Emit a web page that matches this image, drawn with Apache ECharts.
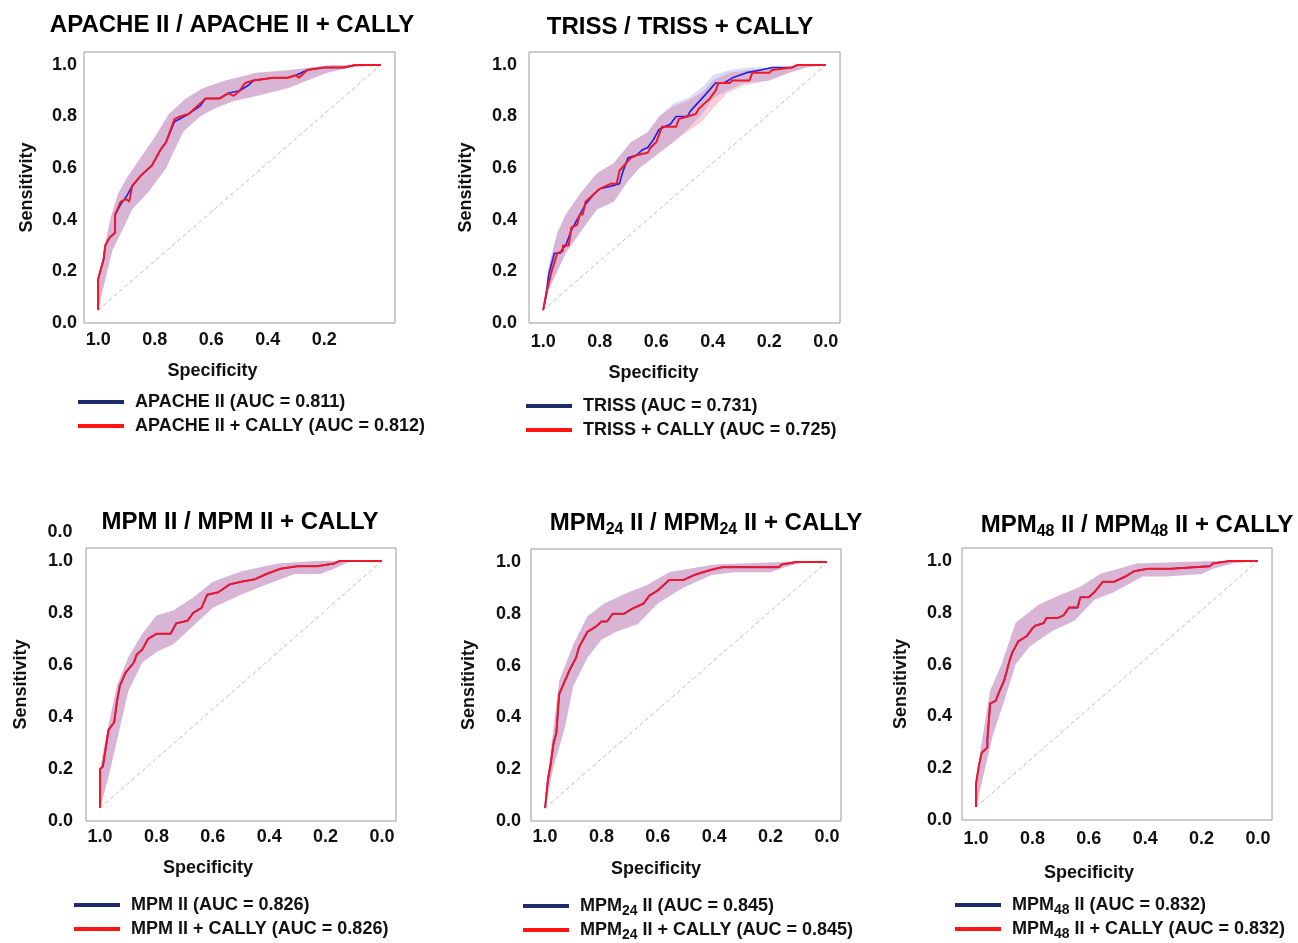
<!DOCTYPE html>
<html><head><meta charset="utf-8">
<script src="https://cdn.jsdelivr.net/npm/echarts@6/dist/echarts.min.js"></script>
<style>html,body{margin:0;padding:0;background:#fff}#c{width:1298px;height:943px}</style>
</head><body><div id="c"></div>
<script>
// ---------------- DATA ----------------
const xTicksFull = [1.0, 0.8, 0.6, 0.4, 0.2, 0.0];
const xTicksApache = [1.0, 0.8, 0.6, 0.4, 0.2];
const yTicks = [0.0, 0.2, 0.4, 0.6, 0.8, 1.0];
const diagonal = [[1.00, 0.05], [0.00, 1.00]];

const panelTitles = [
  'APACHE II / APACHE II + CALLY',
  'TRISS / TRISS + CALLY',
  'MPM II / MPM II + CALLY',
  'MPM{sub|24} II / MPM{sub|24} II + CALLY',
  'MPM{sub|48} II / MPM{sub|48} II + CALLY'
];
const blueNames = [
  'APACHE II (AUC = 0.811)',
  'TRISS (AUC = 0.731)',
  'MPM II (AUC = 0.826)',
  'MPM{sub|24} II (AUC = 0.845)',
  'MPM{sub|48} II (AUC = 0.832)'
];
const redNames = [
  'APACHE II + CALLY (AUC = 0.812)',
  'TRISS + CALLY (AUC = 0.725)',
  'MPM II + CALLY (AUC = 0.826)',
  'MPM{sub|24} II + CALLY (AUC = 0.845)',
  'MPM{sub|48} II + CALLY (AUC = 0.832)'
];

// APACHE II  [specificity, sensitivity]
const apacheBlue = [[1.00,0.05],[1.00,0.17],[0.98,0.25],[0.975,0.30],[0.96,0.33],[0.94,0.35],[0.94,0.42],[0.92,0.46],[0.90,0.49],[0.88,0.53],[0.85,0.57],[0.81,0.61],[0.78,0.67],[0.76,0.70],[0.73,0.78],[0.68,0.81],[0.64,0.84],[0.62,0.87],[0.57,0.87],[0.54,0.89],[0.50,0.90],[0.47,0.92],[0.45,0.94],[0.38,0.95],[0.33,0.95],[0.30,0.96],[0.26,0.98],[0.20,0.99],[0.13,0.99],[0.09,1.00],[0.00,1.00]];
const apacheRed = [[1.00,0.05],[1.00,0.17],[0.98,0.25],[0.975,0.30],[0.96,0.33],[0.94,0.35],[0.94,0.42],[0.92,0.47],[0.90,0.48],[0.89,0.47],[0.88,0.53],[0.85,0.57],[0.81,0.61],[0.78,0.67],[0.76,0.70],[0.73,0.79],[0.71,0.80],[0.68,0.81],[0.64,0.85],[0.62,0.87],[0.57,0.87],[0.54,0.89],[0.52,0.88],[0.50,0.90],[0.48,0.93],[0.45,0.94],[0.38,0.95],[0.33,0.95],[0.30,0.96],[0.29,0.95],[0.26,0.98],[0.20,0.99],[0.13,0.99],[0.09,1.00],[0.00,1.00]];
const apacheUpper = [[1.00,0.05],[0.995,0.18],[0.98,0.28],[0.965,0.36],[0.955,0.41],[0.93,0.50],[0.90,0.56],[0.85,0.64],[0.80,0.72],[0.75,0.81],[0.69,0.87],[0.63,0.91],[0.55,0.94],[0.44,0.97],[0.32,0.98],[0.25,0.99],[0.17,1.00],[0.00,1.00]];
const apacheLower = [[1.00,0.05],[0.97,0.19],[0.95,0.28],[0.91,0.37],[0.88,0.44],[0.82,0.51],[0.76,0.60],[0.70,0.74],[0.64,0.80],[0.59,0.83],[0.52,0.86],[0.44,0.88],[0.33,0.91],[0.26,0.94],[0.19,0.97],[0.11,0.99],[0.00,1.00]];

// TRISS
const trissBlue = [[1.00,0.05],[0.99,0.10],[0.98,0.19],[0.96,0.27],[0.94,0.27],[0.93,0.29],[0.92,0.30],[0.90,0.36],[0.89,0.38],[0.87,0.42],[0.85,0.46],[0.82,0.50],[0.80,0.52],[0.76,0.53],[0.73,0.54],[0.72,0.58],[0.70,0.64],[0.67,0.65],[0.65,0.67],[0.63,0.68],[0.61,0.71],[0.59,0.75],[0.57,0.76],[0.55,0.77],[0.53,0.80],[0.49,0.80],[0.48,0.82],[0.43,0.88],[0.39,0.93],[0.36,0.93],[0.33,0.95],[0.28,0.97],[0.23,0.98],[0.19,0.99],[0.12,0.99],[0.10,1.00],[0.00,1.00]];
const trissRed = [[1.00,0.05],[0.99,0.11],[0.97,0.20],[0.95,0.27],[0.93,0.28],[0.93,0.30],[0.91,0.30],[0.90,0.37],[0.88,0.38],[0.87,0.42],[0.86,0.42],[0.85,0.47],[0.82,0.50],[0.80,0.52],[0.76,0.54],[0.74,0.54],[0.73,0.59],[0.69,0.64],[0.67,0.65],[0.63,0.66],[0.62,0.68],[0.60,0.70],[0.58,0.76],[0.56,0.76],[0.53,0.76],[0.52,0.79],[0.49,0.80],[0.46,0.81],[0.45,0.83],[0.43,0.85],[0.41,0.87],[0.39,0.90],[0.38,0.93],[0.34,0.93],[0.33,0.94],[0.27,0.94],[0.26,0.97],[0.20,0.97],[0.19,0.98],[0.12,0.99],[0.10,1.00],[0.00,1.00]];
const trissBlueUpper = [[1.00,0.05],[0.98,0.22],[0.95,0.35],[0.92,0.42],[0.87,0.50],[0.81,0.58],[0.75,0.62],[0.69,0.70],[0.63,0.74],[0.59,0.80],[0.54,0.85],[0.49,0.87],[0.43,0.92],[0.40,0.96],[0.34,0.98],[0.27,0.99],[0.19,0.99],[0.00,1.00]];
const trissBlueLower = [[1.00,0.05],[0.98,0.13],[0.95,0.20],[0.92,0.27],[0.87,0.35],[0.81,0.44],[0.75,0.47],[0.70,0.55],[0.66,0.60],[0.60,0.65],[0.54,0.70],[0.48,0.76],[0.43,0.82],[0.40,0.87],[0.35,0.90],[0.29,0.93],[0.20,0.94],[0.13,0.97],[0.07,0.99],[0.00,1.00]];
const trissRedUpper = [[1.00,0.05],[0.98,0.22],[0.95,0.35],[0.92,0.42],[0.87,0.50],[0.81,0.58],[0.75,0.62],[0.69,0.70],[0.63,0.74],[0.59,0.80],[0.54,0.84],[0.49,0.86],[0.43,0.90],[0.40,0.94],[0.34,0.97],[0.27,0.98],[0.19,0.99],[0.00,1.00]];
const trissRedLower = [[1.00,0.05],[0.98,0.13],[0.95,0.20],[0.92,0.27],[0.87,0.35],[0.81,0.44],[0.75,0.47],[0.70,0.55],[0.66,0.60],[0.60,0.65],[0.54,0.70],[0.48,0.75],[0.45,0.77],[0.43,0.79],[0.40,0.83],[0.35,0.89],[0.29,0.92],[0.20,0.94],[0.13,0.97],[0.07,0.99],[0.00,1.00]];

// MPM II
const mpm2Red = [[1.00,0.05],[1.00,0.20],[0.99,0.21],[0.98,0.28],[0.97,0.35],[0.95,0.38],[0.94,0.46],[0.93,0.52],[0.91,0.57],[0.88,0.61],[0.87,0.64],[0.85,0.66],[0.83,0.70],[0.80,0.72],[0.75,0.72],[0.73,0.76],[0.69,0.77],[0.67,0.80],[0.64,0.82],[0.62,0.87],[0.58,0.88],[0.54,0.91],[0.50,0.92],[0.45,0.93],[0.41,0.95],[0.36,0.97],[0.30,0.98],[0.23,0.98],[0.17,0.99],[0.15,1.00],[0.00,1.00]];
const mpm2Blue = mpm2Red;
const mpm2Upper = [[1.00,0.05],[1.00,0.20],[0.985,0.29],[0.97,0.37],[0.95,0.47],[0.94,0.52],[0.90,0.63],[0.85,0.72],[0.80,0.79],[0.74,0.81],[0.67,0.86],[0.60,0.92],[0.50,0.96],[0.37,0.99],[0.23,1.00],[0.00,1.00]];
const mpm2Lower = [[1.00,0.05],[0.97,0.17],[0.94,0.31],[0.90,0.50],[0.85,0.61],[0.80,0.65],[0.74,0.68],[0.67,0.75],[0.60,0.82],[0.50,0.87],[0.41,0.91],[0.31,0.95],[0.22,0.95],[0.17,0.97],[0.11,1.00],[0.00,1.00]];

// MPM24 II
const mpm24Red = [[1.00,0.05],[0.99,0.16],[0.98,0.22],[0.97,0.30],[0.96,0.34],[0.95,0.49],[0.93,0.54],[0.91,0.59],[0.89,0.63],[0.88,0.67],[0.86,0.71],[0.85,0.73],[0.82,0.75],[0.80,0.77],[0.78,0.77],[0.76,0.80],[0.72,0.80],[0.69,0.82],[0.67,0.83],[0.65,0.84],[0.63,0.87],[0.60,0.89],[0.56,0.93],[0.51,0.93],[0.47,0.95],[0.44,0.96],[0.41,0.97],[0.37,0.98],[0.27,0.98],[0.17,0.98],[0.16,0.99],[0.11,1.00],[0.00,1.00]];
const mpm24Blue = mpm24Red;
const mpm24Upper = [[1.00,0.05],[0.99,0.18],[0.98,0.27],[0.95,0.54],[0.90,0.68],[0.85,0.79],[0.79,0.84],[0.71,0.88],[0.64,0.91],[0.56,0.96],[0.40,0.99],[0.15,1.00],[0.00,1.00]];
const mpm24Lower = [[1.00,0.05],[0.97,0.21],[0.93,0.36],[0.90,0.52],[0.85,0.63],[0.80,0.70],[0.75,0.73],[0.67,0.76],[0.60,0.84],[0.51,0.90],[0.41,0.95],[0.33,0.96],[0.20,0.96],[0.15,0.98],[0.08,1.00],[0.00,1.00]];

// MPM48 II
const mpm48Red = [[1.00,0.05],[1.00,0.14],[0.99,0.21],[0.98,0.26],[0.96,0.28],[0.96,0.31],[0.95,0.45],[0.93,0.46],[0.92,0.49],[0.90,0.54],[0.89,0.58],[0.88,0.62],[0.87,0.65],[0.85,0.69],[0.82,0.71],[0.80,0.74],[0.79,0.75],[0.76,0.76],[0.75,0.78],[0.71,0.78],[0.69,0.79],[0.67,0.82],[0.64,0.82],[0.63,0.86],[0.60,0.86],[0.58,0.88],[0.55,0.92],[0.51,0.92],[0.47,0.94],[0.44,0.96],[0.39,0.97],[0.31,0.97],[0.17,0.98],[0.16,0.99],[0.10,1.00],[0.00,1.00]];
const mpm48Blue = mpm48Red;
const mpm48Upper = [[1.00,0.05],[0.99,0.22],[0.98,0.30],[0.95,0.50],[0.91,0.60],[0.86,0.76],[0.78,0.83],[0.70,0.87],[0.63,0.90],[0.56,0.95],[0.43,0.99],[0.16,1.00],[0.00,1.00]];
const mpm48Lower = [[1.00,0.05],[0.97,0.19],[0.94,0.33],[0.90,0.46],[0.86,0.60],[0.81,0.67],[0.73,0.73],[0.65,0.77],[0.58,0.85],[0.51,0.88],[0.41,0.94],[0.33,0.94],[0.20,0.95],[0.16,0.97],[0.09,0.99],[0.00,1.00]];

// ---------------- LAYOUT / STYLE ----------------
const SANS = "'Liberation Sans',Arial,sans-serif";
const BLUE = '#1f1fe8', RED = '#f01828', LEG_BLUE = '#1c2b6b', LEG_RED = '#ff1414';
const BLUE_BAND = 'rgba(40,60,230,0.18)', RED_BAND = 'rgba(220,40,80,0.22)';

const panels = [
  {grid:{left:84,top:52,width:311,height:271}, xt:xTicksApache, yM:7, xM:8, gy:48, gx:39, shift:27,
   title:[232,25], legend:[78,390], blue:apacheBlue, red:apacheRed, bu:apacheUpper, bl:apacheLower, ru:apacheUpper, rl:apacheLower},
  {grid:{left:529,top:52,width:311,height:271}, xt:xTicksFull, yM:12, xM:10, gy:54, gx:41, shift:31,
   title:[680,27], legend:[526,394], blue:trissBlue, red:trissRed, bu:trissBlueUpper, bl:trissBlueLower, ru:trissRedUpper, rl:trissRedLower},
  {grid:{left:86,top:548,width:310,height:273}, xt:xTicksFull, yM:13, xM:7, gy:56, gx:38, shift:33,
   title:[240,522], legend:[74,893], blue:mpm2Blue, red:mpm2Red, bu:mpm2Upper, bl:mpm2Lower, ru:mpm2Upper, rl:mpm2Lower},
  {grid:{left:531,top:549,width:310,height:272}, xt:xTicksFull, yM:10, xM:7, gy:53, gx:39, shift:30,
   title:[706,523], legend:[523,894], blue:mpm24Blue, red:mpm24Red, bu:mpm24Upper, bl:mpm24Lower, ru:mpm24Upper, rl:mpm24Lower},
  {grid:{left:962,top:548,width:310,height:272}, xt:xTicksFull, yM:10, xM:10, gy:52, gx:44, shift:28,
   title:[1137,525], legend:[955,893], blue:mpm48Blue, red:mpm48Red, bu:mpm48Upper, bl:mpm48Lower, ru:mpm48Upper, rl:mpm48Lower}
];

function band(i, upper, lower, color) {
  const poly = upper.concat(lower.slice().reverse());
  return {
    type: 'custom', xAxisIndex: i, yAxisIndex: i, silent: true, z: 1, data: poly,
    encode: {x: 0, y: 1},
    renderItem(params, api) {
      if (params.dataIndex !== 0) return null;
      return {type: 'polygon', shape: {points: poly.map(p => api.coord(p))}, style: {fill: color}};
    }
  };
}

const labelStyle = {fontFamily: SANS, fontWeight: 'bold', fontSize: 18, color: '#111'};
const grids = [], xAxes = [], yAxes = [], series = [], legends = [], graphics = [];

panels.forEach((p, i) => {
  grids.push(Object.assign({show: true, borderColor: '#9a9a9a', borderWidth: 1, backgroundColor: '#fff'}, p.grid));
  xAxes.push({
    type: 'value', gridIndex: i, min: -0.05, max: 1.05, inverse: true,
    axisLine: {show: false}, axisTick: {show: false}, splitLine: {show: false},
    axisLabel: Object.assign({customValues: p.xt, margin: p.xM, formatter: v => v.toFixed(1)}, labelStyle),
    name: 'Specificity', nameLocation: 'middle', nameGap: p.gx,
    nameTextStyle: Object.assign({padding: [0, 2 * p.shift, 0, 0]}, labelStyle)
  });
  yAxes.push({
    type: 'value', gridIndex: i, min: 0, max: 1.05,
    axisLine: {show: false}, axisTick: {show: false}, splitLine: {show: false},
    axisLabel: Object.assign({customValues: yTicks, margin: p.yM, formatter: v => v.toFixed(1)}, labelStyle),
    name: 'Sensitivity', nameLocation: 'middle', nameGap: p.gy, nameRotate: 90,
    nameTextStyle: labelStyle
  });
  series.push(band(i, p.bu, p.bl, BLUE_BAND));
  series.push(band(i, p.ru, p.rl, RED_BAND));
  series.push({type: 'line', xAxisIndex: i, yAxisIndex: i, data: diagonal, silent: true, z: 2,
    showSymbol: false, lineStyle: {color: '#bdbdbd', width: 1, type: [4, 3]}});
  series.push({type: 'line', name: blueNames[i], xAxisIndex: i, yAxisIndex: i, data: p.blue, z: 3,
    showSymbol: false, color: BLUE, lineStyle: {color: BLUE, width: 1.6}});
  series.push({type: 'line', name: redNames[i], xAxisIndex: i, yAxisIndex: i, data: p.red, z: 4,
    showSymbol: false, color: RED, lineStyle: {color: RED, width: 2}});
  legends.push({
    orient: 'vertical', left: p.legend[0], top: p.legend[1], padding: 0, itemGap: 0,
    icon: 'rect', itemWidth: 46, itemHeight: 4, selectedMode: false,
    data: [{name: blueNames[i], itemStyle: {color: LEG_BLUE}}, {name: redNames[i], itemStyle: {color: LEG_RED}}],
    formatter: n => n,
    textStyle: {fontFamily: SANS, fontWeight: 'bold', fontSize: 18, color: '#111', lineHeight: 24,
      padding: [0, 0, 0, 6],
      rich: {sub: {fontFamily: SANS, fontWeight: 'bold', fontSize: 14, color: '#111', lineHeight: 5, verticalAlign: 'bottom'}}}
  });
  graphics.push({
    type: 'text', x: p.title[0], y: p.title[1], silent: true,
    style: {text: panelTitles[i], fill: '#000', fontFamily: SANS, fontWeight: 'bold', fontSize: 24, lineHeight: 30,
      align: 'center', verticalAlign: 'middle',
      rich: {sub: {fontFamily: SANS, fontWeight: 'bold', fontSize: 16, fill: '#000', lineHeight: 14, verticalAlign: 'bottom'}}}
  });
});
// stray tick label above the MPM II panel
graphics.push({type: 'text', x: 60, y: 532, silent: true,
  style: {text: '0.0', fill: '#111', fontFamily: SANS, fontWeight: 'bold', fontSize: 18, align: 'center', verticalAlign: 'middle'}});

const chart = echarts.init(document.getElementById('c'), null, {renderer: 'canvas'});
chart.setOption({
  animation: false,
  backgroundColor: '#fff',
  grid: grids, xAxis: xAxes, yAxis: yAxes, series, legend: legends, graphic: graphics
});
</script></body></html>
